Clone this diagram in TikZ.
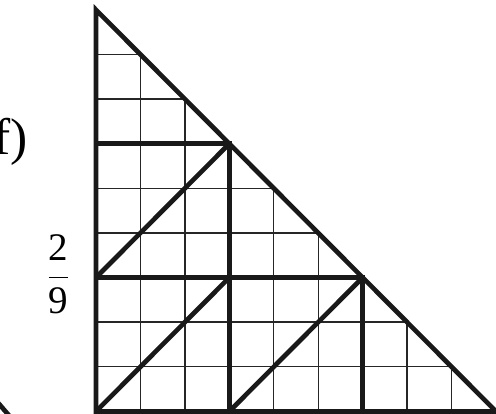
\documentclass[tikz,border=0pt]{standalone}
\usepackage{fontspec}
\setmainfont{Liberation Serif}

\begin{document}
\begin{tikzpicture}[
    x=1cm, y=1.004cm,
    gl/.style={draw=black!85, line width=0.9pt},
    tl/.style={draw=black!90, line width=3pt, line join=miter},
    lbl/.style={inner sep=0pt, font=\fontsize{33}{36}\selectfont},
    frac/.style={inner sep=0pt, font=\fontsize{25}{30}\selectfont},
]
\useasboundingbox (-2.16,-0.04) rectangle (9.0,9.22);

% ====== GRID ======
\foreach \k in {1,...,8} {
    \draw[gl] (0,\k) -- ({9-\k},\k);
    \draw[gl] (\k,0) -- (\k,{9-\k});
}

% ====== CUTS ======
\draw[tl] (0,6) -- (3,6) -- (3,0);
\draw[tl] (0,3) -- (6,3) -- (6,0);
\foreach \a/\b in {0/3, 0/0, 3/0}
    \draw[tl] (\a,\b) -- ({\a+3},{\b+3});

% ====== OUTLINE ======
\draw[tl] (0,0) -- (9,0) -- (0,9) -- cycle;

% ====== LABELS ======
\node[lbl, anchor=base east] (f-tag) at (-1.53,5.76) {f)};
\node[frac] (f-frac) at (-0.84,3.08) {$\displaystyle\frac{\mbox{2}}{\mbox{9}}$};

% piece of the neighbouring figure
\draw[tl] (-2.4,0.42) -- (-1.95,-0.1);

\end{tikzpicture}
\end{document}
